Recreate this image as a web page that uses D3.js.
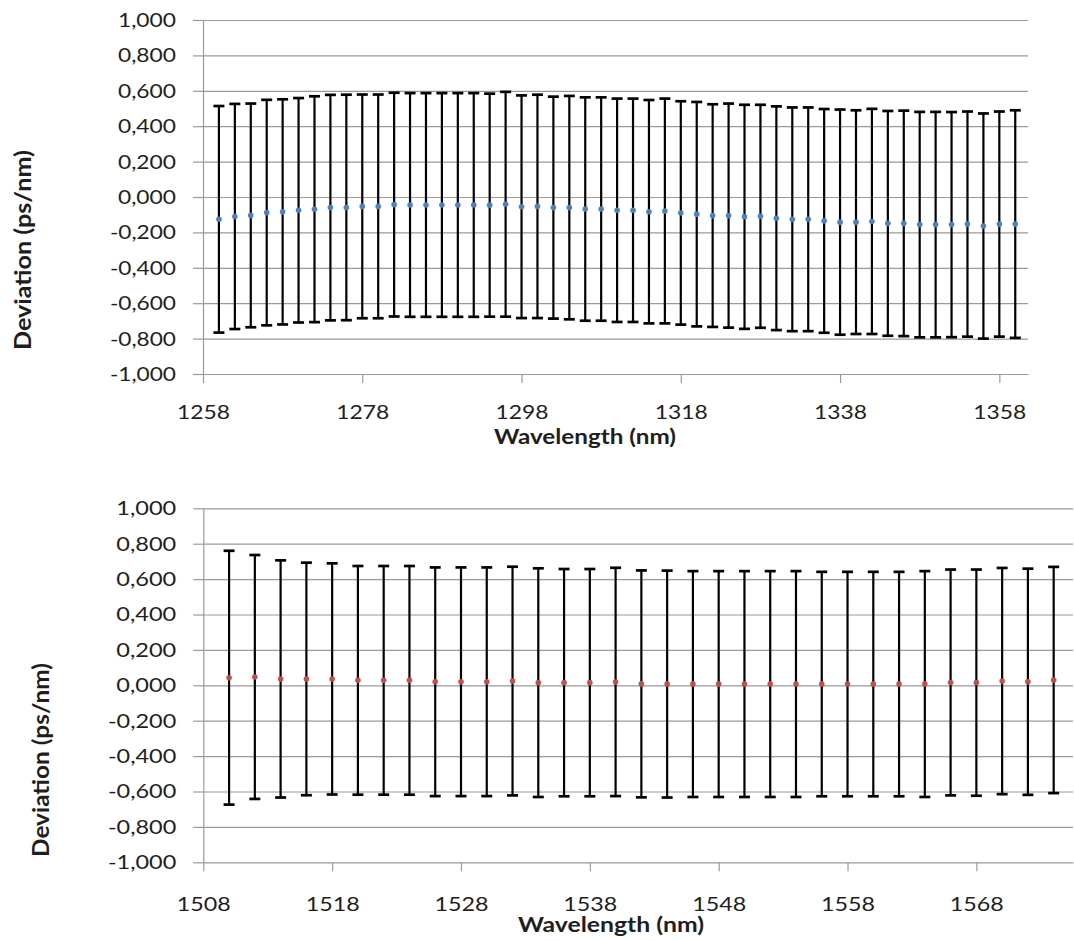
<!DOCTYPE html>
<html><head><meta charset="utf-8">
<script src="https://cdn.jsdelivr.net/npm/d3@7"></script>
<style>body{margin:0;background:#fff;} svg{display:block;}</style>
</head><body>
<svg id="c" width="1074" height="940"></svg>
<script>
// ---------- data ----------
const topWavelength = [1260,1262,1264,1266,1268,1270,1272,1274,1276,1278,1280,1282,1284,1286,1288,1290,1292,1294,1296,1298,1300,1302,1304,1306,1308,1310,1312,1314,1316,1318,1320,1322,1324,1326,1328,1330,1332,1334,1336,1338,1340,1342,1344,1346,1348,1350,1352,1354,1356,1358,1360];
const topDeviation = [-0.126,-0.110,-0.104,-0.088,-0.084,-0.075,-0.069,-0.060,-0.059,-0.053,-0.053,-0.043,-0.045,-0.045,-0.045,-0.045,-0.045,-0.046,-0.041,-0.055,-0.053,-0.060,-0.060,-0.068,-0.068,-0.075,-0.075,-0.083,-0.079,-0.090,-0.097,-0.105,-0.105,-0.112,-0.109,-0.120,-0.126,-0.126,-0.135,-0.142,-0.142,-0.138,-0.149,-0.149,-0.156,-0.156,-0.156,-0.153,-0.164,-0.153,-0.153];
const topError = [0.640,0.636,0.632,0.637,0.636,0.634,0.638,0.637,0.637,0.632,0.632,0.632,0.632,0.632,0.632,0.632,0.632,0.630,0.635,0.629,0.631,0.627,0.631,0.631,0.631,0.631,0.631,0.631,0.635,0.631,0.634,0.629,0.633,0.633,0.630,0.632,0.632,0.632,0.632,0.636,0.632,0.636,0.635,0.637,0.637,0.637,0.636,0.636,0.636,0.636,0.643];

const bottomWavelength = [1510,1512,1514,1516,1518,1520,1522,1524,1526,1528,1530,1532,1534,1536,1538,1540,1542,1544,1546,1548,1550,1552,1554,1556,1558,1560,1562,1564,1566,1568,1570,1572,1574];
const bottomDeviation = [0.043,0.047,0.036,0.036,0.036,0.028,0.028,0.028,0.020,0.020,0.020,0.024,0.015,0.015,0.015,0.019,0.008,0.007,0.007,0.007,0.007,0.007,0.007,0.007,0.007,0.007,0.007,0.007,0.016,0.015,0.024,0.020,0.030];
const bottomError = [0.717,0.689,0.670,0.657,0.653,0.646,0.646,0.646,0.646,0.646,0.646,0.646,0.646,0.642,0.642,0.645,0.641,0.641,0.638,0.638,0.638,0.638,0.638,0.634,0.634,0.634,0.634,0.638,0.638,0.639,0.639,0.639,0.639];

const topXTicks = [1258,1278,1298,1318,1338,1358];
const bottomXTicks = [1508,1518,1528,1538,1548,1558,1568];
const yTicks = [-1,-0.8,-0.6,-0.4,-0.2,0,0.2,0.4,0.6,0.8,1];
const xTitle = "Wavelength (nm)";
const yTitle = "Deviation (ps/nm)";

// ---------- layout ----------
const svg = d3.select("#c");
const locale = d3.formatLocale({decimal:",", thousands:".", grouping:[3], currency:["",""], minus:"-"});
const fmt = locale.format(".3f");
const FONT = "Lato, 'Open Sans', sans-serif";
const GRID = "#9a9a9a";
const TEXT = "#1e1e1e";

function panel(cfg){
  const x = d3.scaleLinear().domain(cfg.xDomain).range([cfg.left, cfg.right]);
  const y = d3.scaleLinear().domain([-1, 1]).range([cfg.bottom, cfg.top]);
  const g = svg.append("g");

  // gridlines
  g.append("g").attr("transform", `translate(${cfg.left},0)`)
    .call(d3.axisLeft(y).tickValues(yTicks.filter(v => v > -1)).tickSize(-(cfg.right - cfg.left)).tickFormat(""))
    .call(s => s.select(".domain").remove())
    .call(s => s.selectAll("line").attr("stroke", GRID).attr("stroke-width", 1.2));

  // y axis
  const ya = g.append("g").attr("transform", `translate(${cfg.left},0)`)
    .call(d3.axisLeft(y).tickValues(yTicks).tickSize(10).tickSizeOuter(0).tickPadding(17).tickFormat(fmt));
  ya.select(".domain").attr("stroke", GRID).attr("stroke-width", 1.2);
  ya.selectAll("line").attr("stroke", GRID).attr("stroke-width", 1.2);
  ya.selectAll("text")
    .attr("font-family", FONT).attr("font-size", cfg.yFont).attr("fill", TEXT)
    .attr("lengthAdjust", "spacingAndGlyphs")
    .attr("textLength", d => fmt(d).length === 6 ? cfg.yLabelW * 1.14 : cfg.yLabelW);

  // x axis
  const xa = g.append("g").attr("transform", `translate(0,${cfg.bottom})`)
    .call(d3.axisBottom(x).tickValues(cfg.xTicks).tickSize(9).tickSizeOuter(0).tickPadding(cfg.xPad).tickFormat(d3.format("d")));
  xa.select(".domain").attr("stroke", GRID).attr("stroke-width", 1.2);
  xa.selectAll("line").attr("stroke", GRID).attr("stroke-width", 1.2);
  xa.selectAll("text")
    .attr("font-family", FONT).attr("font-size", cfg.xFont).attr("fill", TEXT)
    .attr("lengthAdjust", "spacingAndGlyphs").attr("textLength", cfg.xLabelW);

  // error bars
  const eb = g.append("g");
  const data = cfg.xs.map((w, i) => ({w, m: cfg.ys[i], e: cfg.es[i]}));
  eb.selectAll("line.bar").data(data).join("line")
    .attr("x1", d => x(d.w)).attr("x2", d => x(d.w))
    .attr("y1", d => y(d.m - d.e)).attr("y2", d => y(d.m + d.e))
    .attr("stroke", "#000").attr("stroke-width", 2.2);
  ["lo", "hi"].forEach(k => {
    eb.selectAll("line.cap" + k).data(data).join("line")
      .attr("x1", d => x(d.w) - 5.5).attr("x2", d => x(d.w) + 5.5)
      .attr("y1", d => y(k === "lo" ? d.m - d.e : d.m + d.e))
      .attr("y2", d => y(k === "lo" ? d.m - d.e : d.m + d.e))
      .attr("stroke", "#000").attr("stroke-width", 2.7);
  });

  // markers
  g.append("g").selectAll("circle").data(data).join("circle")
    .attr("cx", d => x(d.w)).attr("cy", d => y(d.m)).attr("r", 2.8)
    .attr("fill", cfg.color);

  // titles
  g.append("text").text(xTitle)
    .attr("x", cfg.xTitleX).attr("y", cfg.xTitleY).attr("text-anchor", "middle")
    .attr("font-family", FONT).attr("font-weight", "bold").attr("font-size", cfg.xTitleFont).attr("fill", TEXT)
    .attr("lengthAdjust", "spacingAndGlyphs").attr("textLength", cfg.xTitleW);
  g.append("text").text(yTitle)
    .attr("transform", `translate(${cfg.yTitleX},${cfg.yTitleY}) rotate(-90)`)
    .attr("text-anchor", "middle")
    .attr("font-family", FONT).attr("font-weight", "bold").attr("font-size", cfg.yTitleFont).attr("fill", TEXT)
    .attr("lengthAdjust", "spacingAndGlyphs").attr("textLength", cfg.yTitleW);
}

panel({
  xs: topWavelength, ys: topDeviation, es: topError, color: "#4F81BD",
  xDomain: [1258, 1361.6], xTicks: topXTicks,
  left: 203, right: 1028, top: 20, bottom: 374,
  yFont: 20, yLabelW: 58, xFont: 20, xLabelW: 53, xPad: 22,
  xTitleX: 585, xTitleY: 444, xTitleFont: 20, xTitleW: 182,
  yTitleX: 31, yTitleY: 250, yTitleFont: 22, yTitleW: 200
});

panel({
  xs: bottomWavelength, ys: bottomDeviation, es: bottomError, color: "#C0504D",
  xDomain: [1508, 1575.5], xTicks: bottomXTicks,
  left: 203.3, right: 1073, top: 508.3, bottom: 862.3,
  yFont: 20, yLabelW: 60, xFont: 20, xLabelW: 54, xPad: 26,
  xTitleX: 611, xTitleY: 932, xTitleFont: 20, xTitleW: 186,
  yTitleX: 49, yTitleY: 760, yTitleFont: 22, yTitleW: 194
});
</script>
</body></html>
